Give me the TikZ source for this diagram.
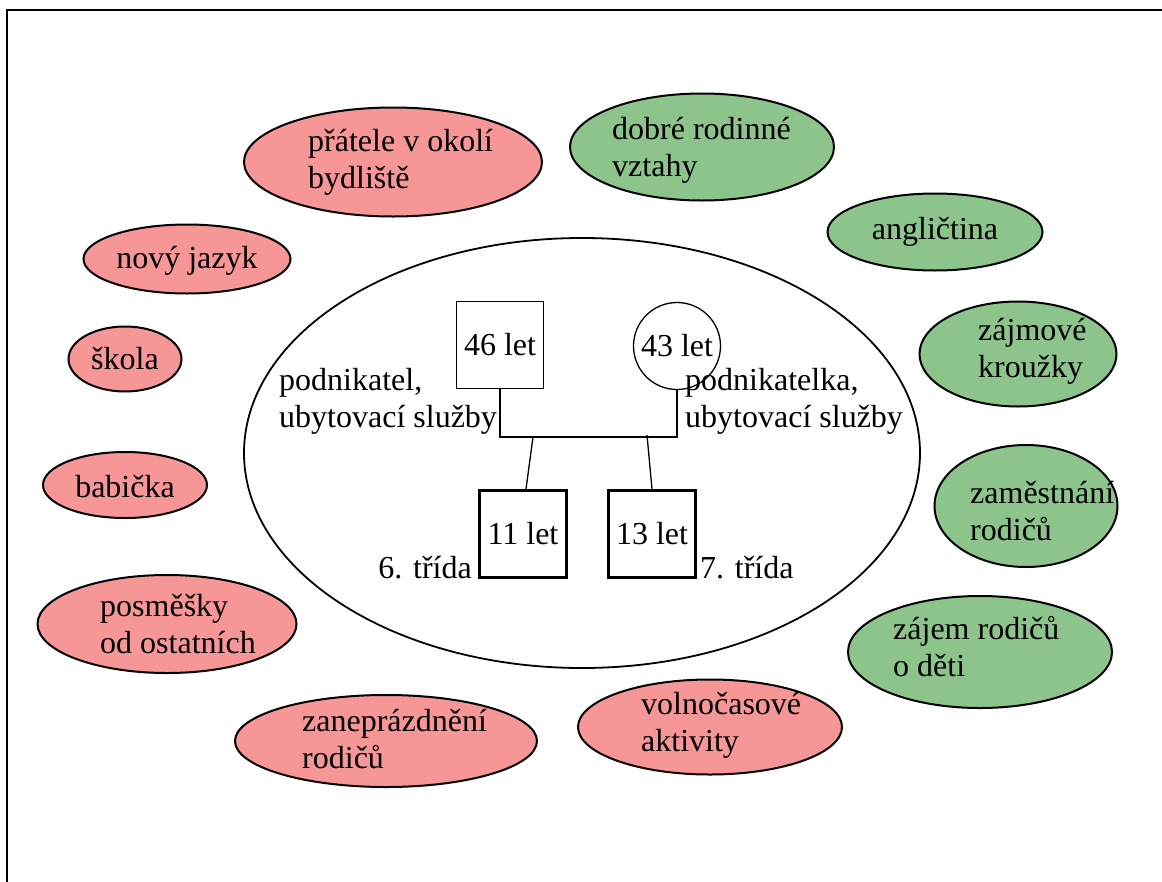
\documentclass[tikz,border=0pt]{standalone}
\usepackage{fontspec}
\setmainfont{Liberation Serif}
\usetikzlibrary{shapes.geometric}
\definecolor{redfill}{RGB}{246,150,150}
\definecolor{greenfill}{RGB}{140,196,140}
\tikzset{
  bub/.style={ellipse, draw=black, line width=2pt, inner sep=0pt},
  redbub/.style={bub, fill=redfill},
  greenbub/.style={bub, fill=greenfill},
  txt/.style={inner sep=0pt, align=left, font=\fontsize{32}{37}\selectfont},
  person/.style={draw=black, line width=1.3pt, inner sep=0pt, minimum size=87pt, font=\fontsize{32}{37}\selectfont},
  child/.style={person, line width=2.8pt},
  link/.style={draw=black, line width=1.3pt}
}
\begin{document}
\begin{tikzpicture}[x=1pt,y=-1pt]
\useasboundingbox (0,0) rectangle (1162,881);
\begin{scope}
\clip (0,0) rectangle (1162,881);
\coordinate (fa) at (7,900);
\coordinate (fb) at (7,10);
\coordinate (fc) at (1180,10);
\draw[line width=2pt] (fa) -- (fb) -- (fc);
\end{scope}

% central ellipse
\node[ellipse, draw=black, line width=1.8pt, minimum width=676pt, minimum height=430pt, inner sep=0pt] (big) at (582,453) {};

% red bubbles
\node[redbub, minimum width=298pt, minimum height=109pt] (e1) at (393,162) {};
\node[txt, anchor=west] (t1) at (308,162) {přátele v okolí\\bydliště};
\node[redbub, minimum width=207pt, minimum height=69pt] (e4) at (187,259) {};
\node[txt] (t4) at (187,261) {nový jazyk};
\node[redbub, minimum width=113pt, minimum height=65pt] (e5) at (125,359) {};
\node[txt] (t5) at (125,359) {škola};
\node[redbub, minimum width=164pt, minimum height=66pt] (e7) at (125,485) {};
\node[txt] (t7) at (125,487) {babička};
\node[redbub, minimum width=259pt, minimum height=98pt] (e9) at (167,624) {};
\node[txt, anchor=west] (t9) at (100,624) {posměšky\\od ostatních};
\node[redbub, minimum width=302pt, minimum height=92pt] (e11) at (386,741) {};
\node[txt, anchor=west] (t11) at (302,739) {zaneprázdnění\\rodičů};
\node[redbub, minimum width=264pt, minimum height=95pt] (e12) at (710,727) {};
\node[txt, anchor=west] (t12) at (641,725) {volnočasové\\aktivity};

% green bubbles
\node[greenbub, minimum width=264pt, minimum height=107pt] (e2) at (702,147) {};
\node[txt, anchor=west] (t2) at (612,150) {dobré rodinné\\vztahy};
\node[greenbub, minimum width=215pt, minimum height=77pt] (e3) at (935,232) {};
\node[txt] (t3) at (935,232) {angličtina};
\node[greenbub, minimum width=197pt, minimum height=105pt] (e6) at (1018,354) {};
\node[txt, anchor=west] (t6) at (978,351) {zájmové\\kroužky};
\node[greenbub, minimum width=183pt, minimum height=122pt] (e8) at (1026,506) {};
\node[txt, anchor=west] (t8) at (970,511) {zaměstnání\\rodičů};
\node[greenbub, minimum width=264pt, minimum height=112pt] (e10) at (980,652) {};
\node[txt, anchor=west] (t10) at (893,647) {zájem rodičů\\o děti};

% family
\node[person] (p46) at (500,345) {46 let};
\node[person, circle] (c43) at (677,346) {43 let};
\node[child] (k11) at (523,534) {11 let};
\node[child] (k13) at (652,534) {13 let};
\coordinate (bar) at (0,437);
\coordinate (cl) at (533,437);
\coordinate (cr) at (647,435);
\draw[link] (p46.south) -- (p46.south |- bar) -- (c43.south |- bar) -- (c43.south);
\draw[link] (cl) -- ([xshift=3pt]k11.north);
\draw[link] (cr) -- (k13.north);

\node[txt, anchor=west] (l46) at (279,401) {podnikatel,\\ubytovací služby};
\node[txt, anchor=west] (l43) at (685,401) {podnikatelka,\\ubytovací služby};
\node[txt, anchor=east] (l11) at (472,568) {6. třída};
\node[txt, anchor=west] (l13) at (700,568) {7. třída};
\end{tikzpicture}
\end{document}
